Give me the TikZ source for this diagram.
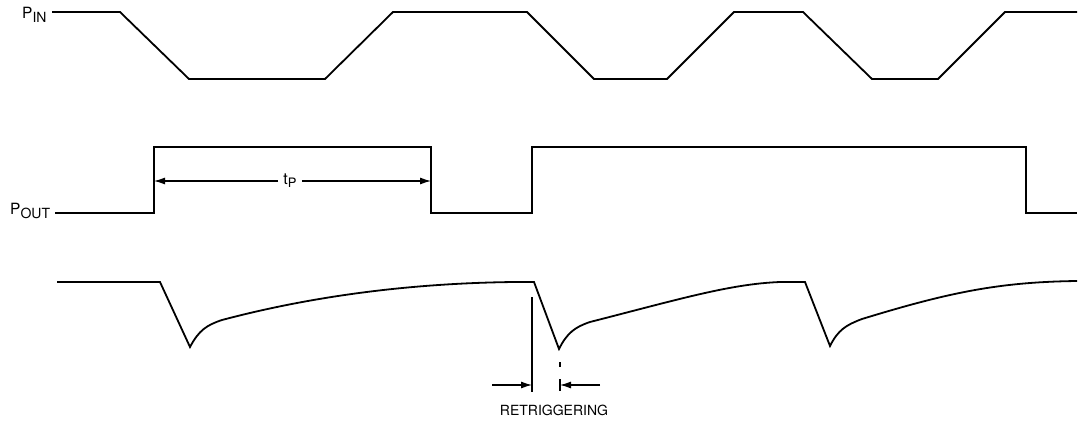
\documentclass[tikz,border=0pt]{standalone}
\usepackage{fontspec}
\setmainfont{TeX Gyre Heros}
\usetikzlibrary{arrows.meta}
\begin{document}
\begin{tikzpicture}[x=1pt,y=-1pt,
  wave/.style={line width=1.8pt, line join=miter},
  dimline/.style={line width=1.1pt, -{Latex[length=11pt,width=7pt]}},
  guide/.style={line width=1.1pt},
  lbl/.style={inner sep=0pt, font=\fontsize{15.5}{15.5}\selectfont}]
\useasboundingbox (0,0) rectangle (1083,422);
% labels
\node[lbl, anchor=base west] (pin) at (22,19) {P\raisebox{-4pt}{\fontsize{14}{14}\selectfont IN}};
\node[lbl, anchor=base west] (pout) at (10,214) {P\raisebox{-4pt}{\fontsize{14}{14}\selectfont OUT}};
% input waveform
\draw[wave] (52,12) -- (120,12) -- (189,79) -- (325,79) -- (393,12) -- (527,12) -- (594,79)
  -- (667,79) -- (734,12) -- (803,12) -- (872,79) -- (938,79) -- (1005,12) -- (1077,12);
% output waveform
\draw[wave] (55,213) -- (154,213) -- (154,147) -- (431,147) -- (431,213) -- (532,213)
  -- (532,147) -- (1026,147) -- (1026,213) -- (1077,213);
% tp dimension
\coordinate (tpl) at (154,181);
\coordinate (tpr) at (431,181);
\node[fill=white, inner xsep=5pt, inner ysep=1pt, font=\fontsize{16}{16}\selectfont] (tp) at (290,181) {t\raisebox{-3pt}{\fontsize{13}{13}\selectfont P}};
\draw[dimline] (tp) -- (tpl);
\draw[dimline] (tp) -- (tpr);
% timing capacitor waveform
\draw[wave] (57,282) -- (160,282) -- (190,347)
  .. controls (199,330) and (207,325) .. (222,320)
  .. controls (320,294) and (420,283) .. (515,282)
  -- (534,282) -- (559,349)
  .. controls (567,333) and (575,327) .. (590,322)
  .. controls (680,299) and (730,284) .. (780,282)
  -- (805,282) -- (830,346)
  .. controls (838,330) and (846,325) .. (862,319)
  .. controls (950,292) and (1000,282) .. (1077,281);
% retriggering
\coordinate (rt1) at (532,297);
\coordinate (rb1) at (532,392);
\coordinate (rt2) at (560,362);
\coordinate (rb2) at (560,392);
\coordinate (al) at (492,385);
\coordinate (ar) at (600,385);
\coordinate (ahl) at (532,385);
\coordinate (ahr) at (560,385);
\draw[guide] (rt1) -- (rb1);
\draw[guide, dash pattern=on 5pt off 12pt on 12pt off 20pt] (rt2) -- (rb2);
\draw[dimline] (al) -- (ahl);
\draw[dimline] (ar) -- (ahr);
\node[inner sep=0pt, anchor=base, font=\fontsize{14}{14}\selectfont] (retrig) at (554,415) {RETRIGGERING};
\end{tikzpicture}
\end{document}
